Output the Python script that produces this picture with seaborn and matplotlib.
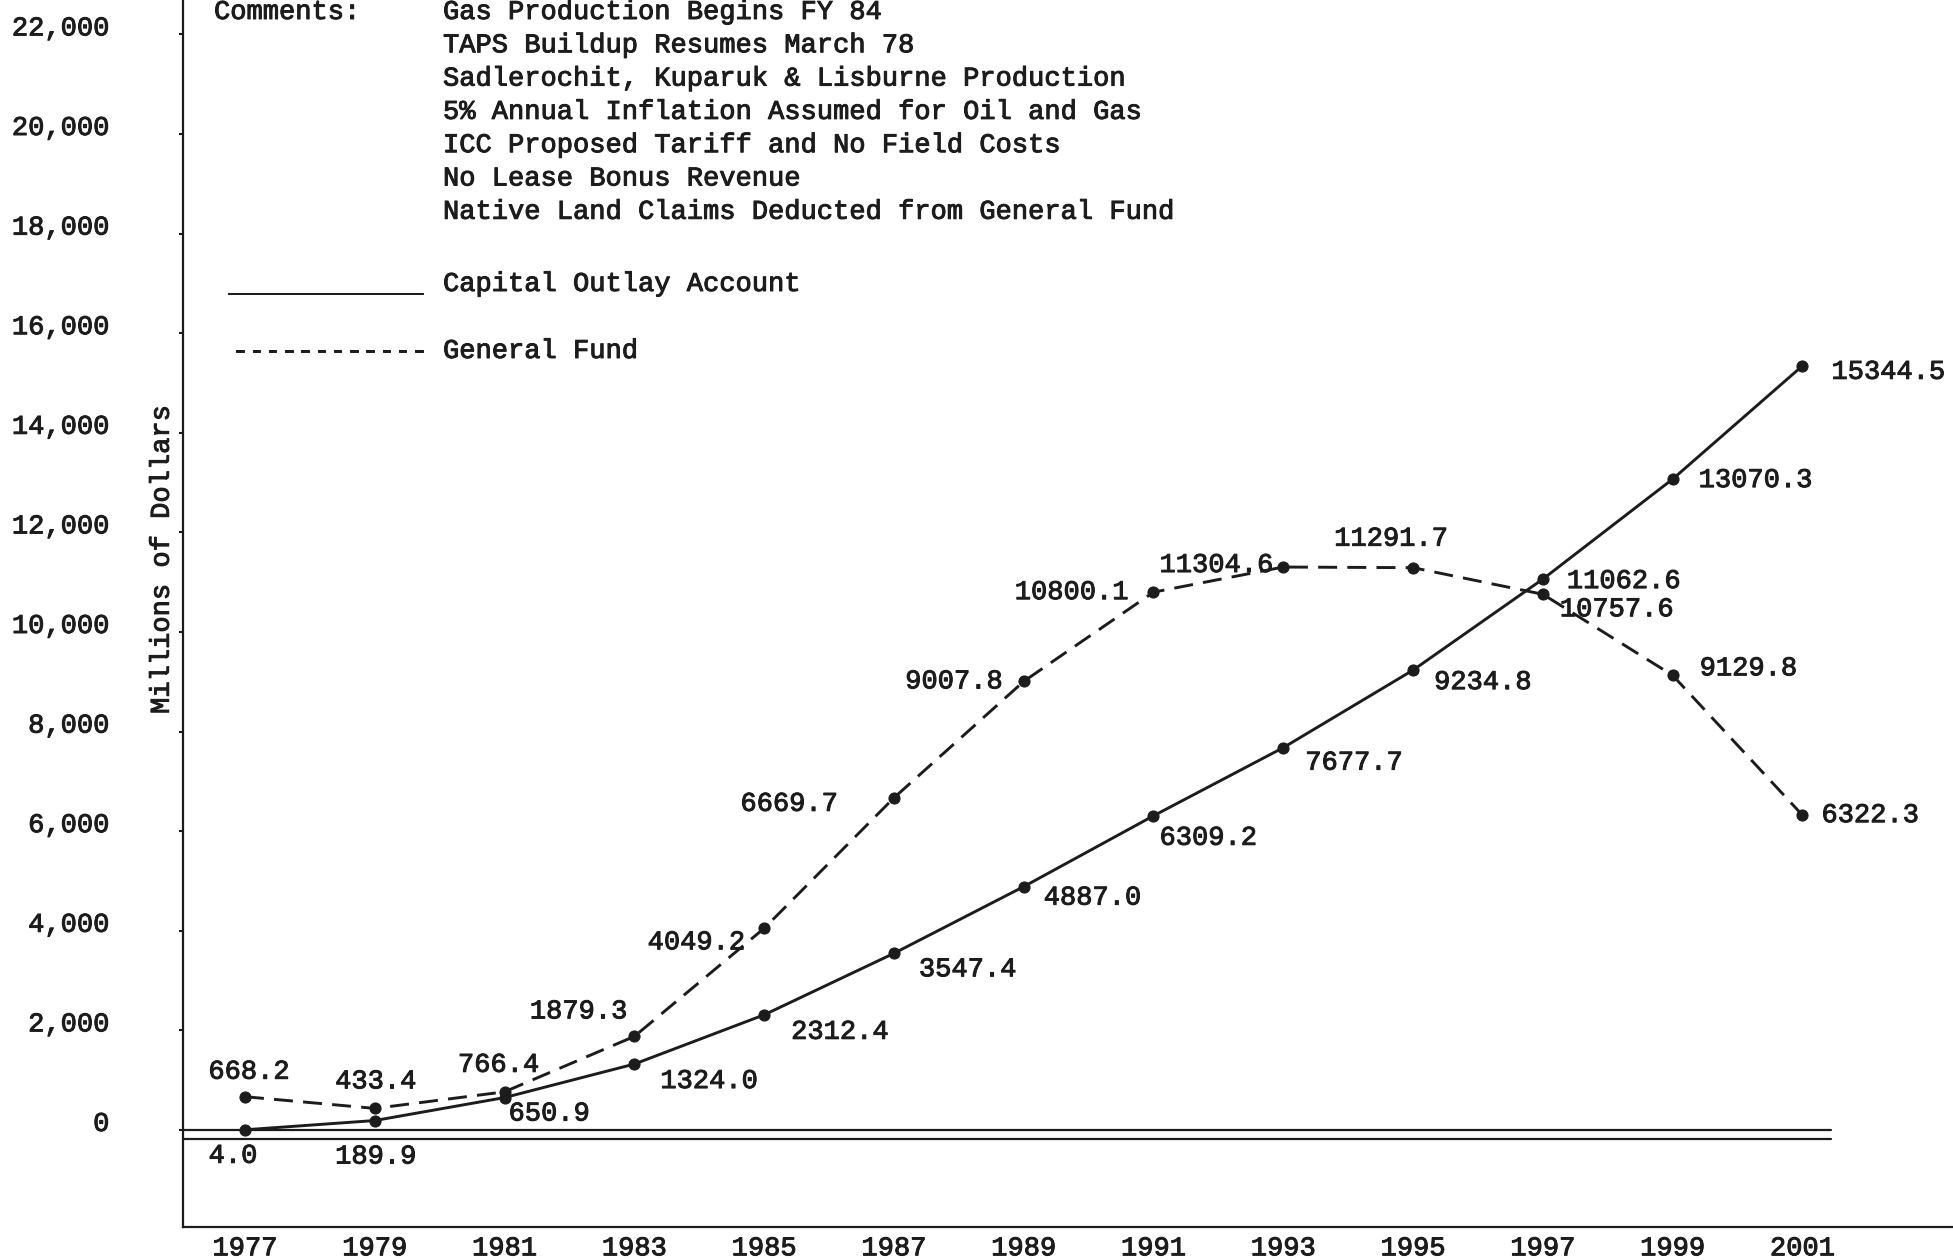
import matplotlib
matplotlib.use("Agg")
import matplotlib.pyplot as plt
import matplotlib.patheffects as pe
from matplotlib.transforms import ScaledTranslation
import pandas as pd
import seaborn as sns

# data
years = [1977, 1979, 1981, 1983, 1985, 1987, 1989, 1991, 1993, 1995, 1997, 1999, 2001]
capital_outlay = [4.0, 189.9, 650.9, 1324.0, 2312.4, 3547.4, 4887.0, 6309.2,
                  7677.7, 9234.8, 11062.6, 13070.3, 15344.5]
general_fund = [668.2, 433.4, 766.4, 1879.3, 4049.2, 6669.7, 9007.8, 10800.1,
                11304.6, 11291.7, 10757.6, 9129.8, 6322.3]
y_ticks = list(range(0, 22001, 2000))
comments = [
    "Gas Production Begins FY 84",
    "TAPS Buildup Resumes March 78",
    "Sadlerochit, Kuparuk & Lisburne Production",
    "5% Annual Inflation Assumed for Oil and Gas",
    "ICC Proposed Tariff and No Field Costs",
    "No Lease Bonus Revenue",
    "Native Land Claims Deducted from General Fund",
]

# label placement (offset pixels, alignment) - styling only
gf_offsets = [(4, 25, "center"), (1, 27, "center"), (-6, 27, "center"), (-7, 25, "right"),
              (-19, -14, "right"), (-56, -6, "right"), (-21, 0, "right"), (-25, 0, "right"),
              (-10, 2, "right"), (-22, 29, "center"), (17, -15, "left"), (27, 7, "left"),
              (19, 0, "left")]
co_offsets = [(-12, -26, "center"), (1, -36, "center"), (4, -16, "left"), (26, -17, "left"),
              (27, -17, "left"), (25, -16, "left"), (20, -11, "left"), (6, -22, "left"),
              (22, -15, "left"), (21, -12, "left"), (24, -2, "left"), (26, -1, "left"),
              (29, -6, "left")]

sns.set_theme(style="white")
plt.rcParams["font.family"] = ["Liberation Mono", "DejaVu Sans Mono"]
fs = 19.5
ink = "#1c1c1c"
typed = [pe.withStroke(linewidth=0.7, foreground=ink)]

df = pd.DataFrame({"year": years, "capital": capital_outlay, "general": general_fund})

fig = plt.figure(figsize=(19.53, 12.60), dpi=100)
ax = fig.add_axes([183 / 1953, 1 - 1227 / 1260, 1 - 183 / 1953, 1227 / 1260])

sns.lineplot(data=df, x="year", y="capital", ax=ax, color=ink, linewidth=2.1,
             marker="o", markersize=8, markeredgecolor=ink)
sns.lineplot(data=df, x="year", y="general", ax=ax, color=ink, linewidth=2.1,
             linestyle=(0, (6.5, 3.5)), marker="o", markersize=8, markeredgecolor=ink)

for yr, val, (dx, dy, ha) in zip(years, general_fund, gf_offsets):
    ax.annotate(f"{val:.1f}", (yr, val), xytext=(dx, dy), textcoords="offset pixels",
                ha=ha, va="center", fontsize=fs, color=ink, path_effects=typed)
for yr, val, (dx, dy, ha) in zip(years, capital_outlay, co_offsets):
    ax.annotate(f"{val:.1f}", (yr, val), xytext=(dx, dy), textcoords="offset pixels",
                ha=ha, va="center", fontsize=fs, color=ink, path_effects=typed)

# double rule at zero
ax.axhline(0, xmin=0, xmax=0.931, color=ink, linewidth=1.6)
ax.axhline(-180, xmin=0, xmax=0.931, color=ink, linewidth=1.6)

ax.set_xlim(1976.045, 2003.32)
ax.set_ylim(-1948, 22691)
ax.set_xticks(years)
ax.set_xticklabels([str(y) for y in years], fontsize=fs, color=ink)
ax.set_yticks(y_ticks)
ax.set_yticklabels([f"{v:,}" for v in y_ticks], fontsize=fs, color=ink)
ax.tick_params(axis="y", length=3, width=1.5, pad=50, left=True, color=ink)
ax.tick_params(axis="x", length=0, pad=6)
for lab in ax.get_yticklabels():
    lab.set_transform(lab.get_transform() + ScaledTranslation(0, 0.09, fig.dpi_scale_trans))
for lab in ax.get_yticklabels() + ax.get_xticklabels():
    lab.set_path_effects(typed)
ax.set_xlabel("")
ax.set_ylabel("")
ax.text(-0.012, 0.544, "Millions of Dollars", transform=ax.transAxes, rotation=90,
        ha="center", va="center", fontsize=fs, color=ink, path_effects=typed)

for side in ["top", "right"]:
    ax.spines[side].set_visible(False)
for side in ["left", "bottom"]:
    ax.spines[side].set_color(ink)
    ax.spines[side].set_linewidth(1.6)

# typed comment block and key
fig.text(214 / 1953, 1 - 12 / 1260, "Comments:", ha="left", va="center", fontsize=fs,
         color=ink, path_effects=typed)
for i, line in enumerate(comments):
    fig.text(443 / 1953, 1 - (12 + 33.3 * i) / 1260, line, ha="left", va="center",
             fontsize=fs, color=ink, path_effects=typed)
fig.text(228 / 1953, 1 - 284 / 1260, "____________", ha="left", va="center", fontsize=fs,
         color=ink, path_effects=typed)
fig.text(443 / 1953, 1 - 284 / 1260, "Capital Outlay Account", ha="left", va="center",
         fontsize=fs, color=ink, path_effects=typed)
fig.text(232 / 1953, 1 - 351 / 1260, "------------", ha="left", va="center", fontsize=fs,
         color=ink, path_effects=typed)
fig.text(443 / 1953, 1 - 351 / 1260, "General Fund", ha="left", va="center", fontsize=fs,
         color=ink, path_effects=typed)

fig.savefig("out.png", dpi=100)
